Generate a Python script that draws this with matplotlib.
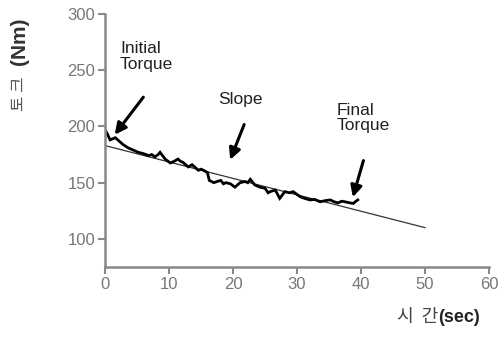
import matplotlib
matplotlib.use("Agg")
import matplotlib.pyplot as plt

# measured torque trace (sec, Nm)
time_s = [0.0, 0.4, 0.8, 1.2, 1.6, 2.0, 2.8, 3.6, 4.4, 5.2, 5.9, 6.4, 6.8, 7.3,
          7.8, 8.3, 8.6, 9.0, 9.4, 10.2, 10.8, 11.4, 11.8, 12.2, 13.0, 13.6,
          14.0, 14.6, 15.0, 15.4, 16.0, 16.3, 17.0, 17.5, 18.1, 18.5, 18.9,
          19.6, 20.3, 20.7, 21.1, 21.9, 22.3, 22.7, 23.4, 24.2, 25.0, 25.5,
          25.8, 26.6, 27.3, 28.1, 28.8, 29.4, 30.5, 31.2, 32.0, 32.8, 33.6,
          34.4, 35.2, 35.8, 36.4, 37.0, 37.5, 38.3, 38.8, 39.1, 39.5]
torque = [197, 193, 188, 189, 190, 188, 184, 181, 179, 177, 176, 175, 174, 175,
          173, 175, 177, 174, 171, 167.5, 169, 171, 169, 168, 164, 166,
          164, 161, 162, 161, 159, 152, 150, 151, 152, 149, 150,
          149, 146, 148, 150, 151, 150, 153, 148, 146, 145, 141,
          142, 143.5, 136, 142, 141, 142, 137.5, 136, 134.7, 135, 133,
          134, 134.7, 133, 132, 133.5, 133, 132, 131.5, 133, 134.7]

# fitted slope line
fit_x = [0, 50]
fit_y = [183, 110]

xticks = [0, 10, 20, 30, 40, 50, 60]
yticks = [100, 150, 200, 250, 300]

plt.rcParams['font.family'] = ['Liberation Sans', 'Noto Sans CJK KR', 'DejaVu Sans']

fig = plt.figure(figsize=(5.01, 3.38), dpi=100)
ax = fig.add_axes([105 / 501, 1 - 267 / 338, 384 / 501, 253 / 338])

ax.plot(fit_x, fit_y, color="#333333", lw=0.9)
ax.plot(time_s, torque, color="black", lw=2.0, solid_joinstyle="miter")

ax.set_xlim(0, 60)
ax.set_ylim(75, 300)
ax.set_xticks(xticks)
ax.set_yticks(yticks)
for s in ["top", "right"]:
    ax.spines[s].set_visible(False)
for s in ["left", "bottom"]:
    ax.spines[s].set_color("#888888")
    ax.spines[s].set_linewidth(1.8)
ax.tick_params(colors="#888888", labelcolor="#777777", labelsize=12,
               length=5, width=1.5, pad=2)

arrow = dict(arrowstyle="-|>", color="black", lw=2.2, mutation_scale=17)
ax.annotate("", xy=(1.25, 190.7), xytext=(6.25, 228), arrowprops=arrow)
ax.annotate("", xy=(19.4, 168), xytext=(21.9, 204), arrowprops=arrow)
ax.annotate("", xy=(38.6, 134.7), xytext=(40.5, 172), arrowprops=arrow)

txt = dict(fontsize=12.5, color="#222222", va="top", ha="left", linespacing=1.05)
ax.text(2.34, 276, "Initial\nTorque", **txt)
ax.text(17.7, 231, "Slope", **txt)
ax.text(36.25, 221, "Final\nTorque", **txt)

# axis labels (Korean part normal, units bold)
cjk = ['Noto Sans CJK KR', 'DejaVu Sans']
fig.text(20 / 501, 1 - 94 / 338, "토 크", rotation=90, ha="center", va="center",
         fontsize=12, color="#555555", family=cjk)
fig.text(20 / 501, 1 - 41 / 338, "(Nm)", rotation=90, ha="center", va="center",
         fontsize=15, fontweight="bold", color="#333333")
fig.text(438 / 501, 1 - 317 / 338, "시  간", ha="right", va="center",
         fontsize=13, color="#444444", family=cjk)
fig.text(438 / 501, 1 - 318 / 338, "(sec)", ha="left", va="center",
         fontsize=13, fontweight="bold", color="#222222")

fig.savefig("out.png", dpi=100)
